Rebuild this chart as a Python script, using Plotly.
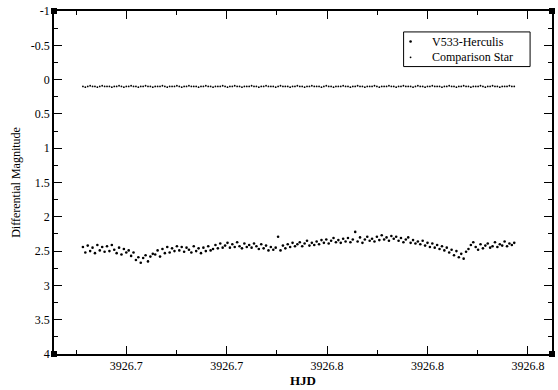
import plotly.graph_objects as go

# Observation times (HJD) shared by both stars
hjd = [
    3926.6892, 3926.6898, 3926.6904, 3926.6910, 3926.6916, 3926.6922, 3926.6928, 3926.6934, 3926.6940, 3926.6946,
    3926.6952, 3926.6958, 3926.6964, 3926.6970, 3926.6976, 3926.6982, 3926.6988, 3926.6994, 3926.7000, 3926.7006,
    3926.7012, 3926.7018, 3926.7024, 3926.7030, 3926.7036, 3926.7042, 3926.7048, 3926.7054, 3926.7060, 3926.7066,
    3926.7072, 3926.7078, 3926.7084, 3926.7090, 3926.7096, 3926.7102, 3926.7108, 3926.7114, 3926.7120, 3926.7126,
    3926.7132, 3926.7138, 3926.7144, 3926.7150, 3926.7156, 3926.7162, 3926.7168, 3926.7174, 3926.7180, 3926.7186,
    3926.7192, 3926.7198, 3926.7204, 3926.7210, 3926.7216, 3926.7222, 3926.7228, 3926.7234, 3926.7240, 3926.7246,
    3926.7252, 3926.7258, 3926.7264, 3926.7270, 3926.7276, 3926.7282, 3926.7288, 3926.7294, 3926.7300, 3926.7306,
    3926.7312, 3926.7318, 3926.7324, 3926.7330, 3926.7336, 3926.7342, 3926.7348, 3926.7354, 3926.7360, 3926.7366,
    3926.7372, 3926.7378, 3926.7384, 3926.7390, 3926.7396, 3926.7402, 3926.7408, 3926.7414, 3926.7420, 3926.7426,
    3926.7432, 3926.7438, 3926.7444, 3926.7450, 3926.7456, 3926.7462, 3926.7468, 3926.7474, 3926.7480, 3926.7486,
    3926.7492, 3926.7498, 3926.7504, 3926.7510, 3926.7516, 3926.7522, 3926.7528, 3926.7534, 3926.7540, 3926.7546,
    3926.7552, 3926.7558, 3926.7564, 3926.7570, 3926.7576, 3926.7582, 3926.7588, 3926.7594, 3926.7600, 3926.7606,
    3926.7612, 3926.7618, 3926.7624, 3926.7630, 3926.7636, 3926.7642, 3926.7648, 3926.7654, 3926.7660, 3926.7666,
    3926.7672, 3926.7678, 3926.7684, 3926.7690, 3926.7696, 3926.7702, 3926.7708, 3926.7714, 3926.7720, 3926.7726,
    3926.7732, 3926.7738, 3926.7744, 3926.7750, 3926.7756, 3926.7762, 3926.7768, 3926.7774, 3926.7780, 3926.7786,
    3926.7792, 3926.7798, 3926.7804, 3926.7810, 3926.7816, 3926.7822, 3926.7828, 3926.7834, 3926.7840, 3926.7846,
    3926.7852, 3926.7858, 3926.7864, 3926.7870, 3926.7876, 3926.7882, 3926.7888, 3926.7894, 3926.7900, 3926.7906,
    3926.7912, 3926.7918, 3926.7924, 3926.7930, 3926.7936, 3926.7942, 3926.7948, 3926.7954, 3926.7960, 3926.7966,
]

# Differential magnitude of V533 Herculis
v533_mag = [
    2.44, 2.52, 2.42, 2.50, 2.45, 2.53, 2.41, 2.49, 2.44, 2.51,
    2.43, 2.50, 2.41, 2.48, 2.53, 2.45, 2.55, 2.47, 2.52, 2.49,
    2.57, 2.52, 2.63, 2.59, 2.67, 2.60, 2.56, 2.65, 2.58, 2.54,
    2.55, 2.49, 2.58, 2.47, 2.53, 2.44, 2.52, 2.46, 2.50, 2.43,
    2.49, 2.44, 2.51, 2.45, 2.48, 2.52, 2.43, 2.50, 2.46, 2.53,
    2.45, 2.50, 2.43, 2.49, 2.47, 2.41, 2.46, 2.39, 2.45, 2.42,
    2.38, 2.45, 2.40, 2.44, 2.37, 2.43, 2.46, 2.39, 2.44, 2.41,
    2.45, 2.39, 2.43, 2.47, 2.40, 2.46, 2.42, 2.49, 2.44, 2.48,
    2.45, 2.29, 2.49, 2.42, 2.46, 2.40, 2.44, 2.38, 2.43, 2.40,
    2.37, 2.43, 2.39, 2.35, 2.42, 2.38, 2.41, 2.36, 2.40, 2.34,
    2.38, 2.33, 2.39, 2.35, 2.31, 2.37, 2.34, 2.38, 2.32, 2.36,
    2.31, 2.37, 2.33, 2.22, 2.36, 2.30, 2.38, 2.33, 2.29, 2.35,
    2.32, 2.36, 2.29, 2.34, 2.27, 2.33, 2.30, 2.35, 2.28, 2.32,
    2.29, 2.35, 2.31, 2.37, 2.33, 2.30, 2.38, 2.34, 2.39, 2.36,
    2.40, 2.35, 2.42, 2.38, 2.44, 2.39, 2.45, 2.41, 2.47, 2.43,
    2.49, 2.45, 2.52, 2.48, 2.56, 2.50, 2.59, 2.54, 2.61, 2.51,
    2.47, 2.41, 2.37, 2.44, 2.48, 2.40, 2.46, 2.42, 2.39, 2.45,
    2.43, 2.37, 2.44, 2.40, 2.42, 2.36, 2.43, 2.39, 2.41, 2.38,
]

# Differential magnitude of the comparison star
comp_mag = [
    0.10, 0.11, 0.10, 0.09, 0.10, 0.10, 0.11, 0.10, 0.09, 0.10,
    0.10, 0.10, 0.11, 0.10, 0.10, 0.09, 0.10, 0.11, 0.10, 0.10,
    0.09, 0.10, 0.10, 0.11, 0.10, 0.10, 0.09, 0.10, 0.10, 0.11,
    0.10, 0.10, 0.10, 0.09, 0.10, 0.11, 0.10, 0.10, 0.10, 0.09,
    0.10, 0.11, 0.10, 0.10, 0.09, 0.10, 0.10, 0.10, 0.11, 0.10,
    0.10, 0.09, 0.10, 0.10, 0.11, 0.10, 0.10, 0.10, 0.09, 0.10,
    0.11, 0.10, 0.10, 0.09, 0.10, 0.10, 0.11, 0.10, 0.10, 0.10,
    0.09, 0.10, 0.10, 0.11, 0.10, 0.10, 0.09, 0.10, 0.10, 0.10,
    0.11, 0.10, 0.09, 0.10, 0.10, 0.10, 0.11, 0.10, 0.10, 0.09,
    0.10, 0.10, 0.11, 0.10, 0.10, 0.09, 0.10, 0.10, 0.10, 0.11,
    0.10, 0.09, 0.10, 0.10, 0.11, 0.10, 0.10, 0.10, 0.09, 0.10,
    0.10, 0.11, 0.10, 0.10, 0.09, 0.10, 0.10, 0.11, 0.10, 0.10,
    0.10, 0.09, 0.10, 0.11, 0.10, 0.10, 0.10, 0.09, 0.10, 0.10,
    0.11, 0.10, 0.10, 0.09, 0.10, 0.10, 0.10, 0.11, 0.10, 0.09,
    0.10, 0.10, 0.11, 0.10, 0.10, 0.09, 0.10, 0.10, 0.10, 0.11,
    0.10, 0.10, 0.09, 0.10, 0.10, 0.11, 0.10, 0.10, 0.09, 0.10,
    0.10, 0.11, 0.10, 0.10, 0.10, 0.09, 0.10, 0.11, 0.10, 0.10,
    0.09, 0.10, 0.10, 0.11, 0.10, 0.10, 0.10, 0.09, 0.10, 0.10,
]

series_names = ["V533-Herculis", "Comparison Star"]

x_tickvals = [3926.700, 3926.725, 3926.750, 3926.775, 3926.800]
x_ticktext = ["3926.7", "3926.7", "3926.8", "3926.8", "3926.8"]
y_tickvals = [-1, -0.5, 0, 0.5, 1, 1.5, 2, 2.5, 3, 3.5, 4]
y_ticktext = ["-1", "-0.5", "0", "0.5", "1", "1.5", "2", "2.5", "3", "3.5", "4"]

FONT = "'Liberation Serif', 'DejaVu Serif', serif"
marker_sizes = [2.6, 1.8]

fig = go.Figure()
for name, mags, msize in zip(series_names, [v533_mag, comp_mag], marker_sizes):
    fig.add_trace(go.Scatter(
        x=hjd, y=mags, mode="markers", name=name, showlegend=False,
        marker=dict(color="black", size=msize, line=dict(width=0)),
    ))

axis_common = dict(
    showline=True, linecolor="black", linewidth=1.5, mirror="allticks",
    ticks="inside", ticklen=8, tickwidth=1, tickcolor="black",
    showgrid=False, zeroline=False,
    tickfont=dict(family=FONT, size=12, color="black"),
)

fig.update_xaxes(
    range=[3926.682, 3926.806],
    tickmode="array", tickvals=x_tickvals, ticktext=x_ticktext,
    minor=dict(ticks="inside", ticklen=4, tickcolor="black",
               tick0=3926.6875, dtick=0.025, showgrid=False),
    title=dict(text="<b>HJD</b>", font=dict(family=FONT, size=13, color="black"), standoff=4),
    **axis_common,
)
fig.update_yaxes(
    range=[4, -1],
    tickmode="array", tickvals=y_tickvals, ticktext=y_ticktext,
    minor=dict(ticks="inside", ticklen=4, tickcolor="black",
               tick0=-0.75, dtick=0.5, showgrid=False),
    title=dict(text="Differential Magnitude", font=dict(family=FONT, size=12, color="black"), standoff=8),
    **axis_common,
)

# small filled squares marking the frame corners
for cx, cy in [(0, 0), (1, 0), (0, 1), (1, 1)]:
    fig.add_shape(
        type="rect", xref="paper", yref="paper",
        xsizemode="pixel", ysizemode="pixel",
        xanchor=cx, yanchor=cy, x0=-3, x1=3, y0=-3, y1=3,
        fillcolor="black", line=dict(width=0),
    )

# compact legend box drawn in paper coordinates
fig.add_shape(
    type="rect", xref="paper", yref="paper",
    x0=0.702, x1=0.956, y0=0.838, y1=0.939,
    fillcolor="white", line=dict(color="black", width=1),
)
legend_rows = [0.911, 0.865]
for name, row_y, msize in zip(series_names, legend_rows, marker_sizes):
    fig.add_shape(
        type="circle", xref="paper", yref="paper",
        xsizemode="pixel", ysizemode="pixel",
        xanchor=0.716, yanchor=row_y,
        x0=-msize / 2, x1=msize / 2, y0=-msize / 2, y1=msize / 2,
        fillcolor="black", line=dict(width=0),
    )
    fig.add_annotation(
        xref="paper", yref="paper", x=0.758, y=row_y,
        xanchor="left", yanchor="middle", showarrow=False, borderpad=0,
        text=name, font=dict(family=FONT, size=12, color="black"),
    )

fig.update_layout(
    width=558, height=390,
    margin=dict(l=54, r=4, t=9, b=35),
    paper_bgcolor="white", plot_bgcolor="white",
    font=dict(family=FONT, size=12, color="black"),
    showlegend=False,
)

fig.write_html("out.html")
